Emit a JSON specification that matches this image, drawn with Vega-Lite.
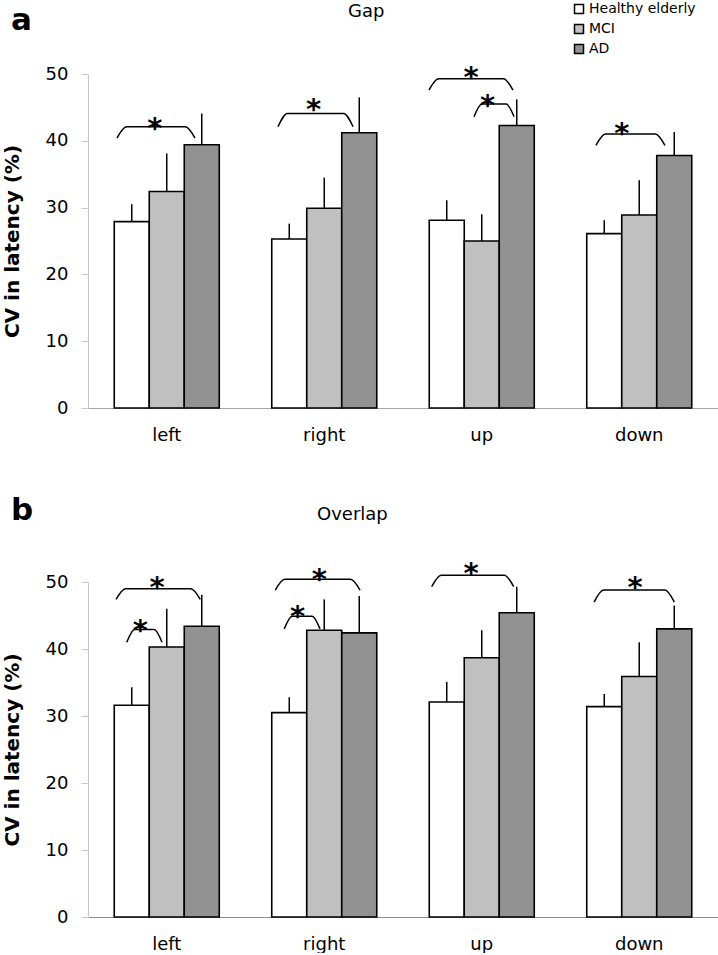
{
  "$schema": "https://vega.github.io/schema/vega-lite/v6.json",
  "padding": {"left": 2, "top": 2, "right": 0, "bottom": 0},
  "bounds": "flush",
  "spacing": 174,
  "config": {
    "font": "DejaVu Sans",
    "view": {"stroke": null},
    "axis": {"labelFont": "DejaVu Sans", "titleFont": "DejaVu Sans", "grid": false}
  },
  "datasets": {
    "bars": [
      {"panel": "Gap", "dir": "left", "group": "Healthy elderly", "mean": 27.9, "upper": 30.5},
      {"panel": "Gap", "dir": "left", "group": "MCI", "mean": 32.4, "upper": 38.1},
      {"panel": "Gap", "dir": "left", "group": "AD", "mean": 39.4, "upper": 44.1},
      {"panel": "Gap", "dir": "right", "group": "Healthy elderly", "mean": 25.3, "upper": 27.6},
      {"panel": "Gap", "dir": "right", "group": "MCI", "mean": 29.9, "upper": 34.5},
      {"panel": "Gap", "dir": "right", "group": "AD", "mean": 41.2, "upper": 46.5},
      {"panel": "Gap", "dir": "up", "group": "Healthy elderly", "mean": 28.1, "upper": 31.1},
      {"panel": "Gap", "dir": "up", "group": "MCI", "mean": 25.0, "upper": 29.0},
      {"panel": "Gap", "dir": "up", "group": "AD", "mean": 42.3, "upper": 46.2},
      {"panel": "Gap", "dir": "down", "group": "Healthy elderly", "mean": 26.1, "upper": 28.1},
      {"panel": "Gap", "dir": "down", "group": "MCI", "mean": 28.9, "upper": 34.1},
      {"panel": "Gap", "dir": "down", "group": "AD", "mean": 37.8, "upper": 41.3},
      {"panel": "Overlap", "dir": "left", "group": "Healthy elderly", "mean": 31.6, "upper": 34.3},
      {"panel": "Overlap", "dir": "left", "group": "MCI", "mean": 40.3, "upper": 46.0},
      {"panel": "Overlap", "dir": "left", "group": "AD", "mean": 43.4, "upper": 48.1},
      {"panel": "Overlap", "dir": "right", "group": "Healthy elderly", "mean": 30.5, "upper": 32.8},
      {"panel": "Overlap", "dir": "right", "group": "MCI", "mean": 42.8, "upper": 47.4},
      {"panel": "Overlap", "dir": "right", "group": "AD", "mean": 42.4, "upper": 47.9},
      {"panel": "Overlap", "dir": "up", "group": "Healthy elderly", "mean": 32.1, "upper": 35.1},
      {"panel": "Overlap", "dir": "up", "group": "MCI", "mean": 38.7, "upper": 42.8},
      {"panel": "Overlap", "dir": "up", "group": "AD", "mean": 45.4, "upper": 49.3},
      {"panel": "Overlap", "dir": "down", "group": "Healthy elderly", "mean": 31.4, "upper": 33.3},
      {"panel": "Overlap", "dir": "down", "group": "MCI", "mean": 35.9, "upper": 41.0},
      {"panel": "Overlap", "dir": "down", "group": "AD", "mean": 43.0, "upper": 46.5}
    ],
    "brackets": [
      {"panel": "Gap", "id": "g1", "ord": 1, "x": 0.184, "y": 40.4},
      {"panel": "Gap", "id": "g1", "ord": 2, "x": 0.244, "y": 42.1},
      {"panel": "Gap", "id": "g1", "ord": 3, "x": 0.619, "y": 42.1},
      {"panel": "Gap", "id": "g1", "ord": 4, "x": 0.679, "y": 40.4},
      {"panel": "Gap", "id": "g2", "ord": 1, "x": 1.206, "y": 42.1},
      {"panel": "Gap", "id": "g2", "ord": 2, "x": 1.266, "y": 44.1},
      {"panel": "Gap", "id": "g2", "ord": 3, "x": 1.623, "y": 44.1},
      {"panel": "Gap", "id": "g2", "ord": 4, "x": 1.683, "y": 42.1},
      {"panel": "Gap", "id": "g3", "ord": 1, "x": 2.165, "y": 47.6},
      {"panel": "Gap", "id": "g3", "ord": 2, "x": 2.225, "y": 49.3},
      {"panel": "Gap", "id": "g3", "ord": 3, "x": 2.638, "y": 49.3},
      {"panel": "Gap", "id": "g3", "ord": 4, "x": 2.698, "y": 47.6},
      {"panel": "Gap", "id": "g4", "ord": 1, "x": 2.451, "y": 43.6},
      {"panel": "Gap", "id": "g4", "ord": 2, "x": 2.501, "y": 45.5},
      {"panel": "Gap", "id": "g4", "ord": 3, "x": 2.655, "y": 45.5},
      {"panel": "Gap", "id": "g4", "ord": 4, "x": 2.705, "y": 43.6},
      {"panel": "Gap", "id": "g5", "ord": 1, "x": 3.225, "y": 39.3},
      {"panel": "Gap", "id": "g5", "ord": 2, "x": 3.285, "y": 41.0},
      {"panel": "Gap", "id": "g5", "ord": 3, "x": 3.603, "y": 41.0},
      {"panel": "Gap", "id": "g5", "ord": 4, "x": 3.663, "y": 39.3},
      {"panel": "Overlap", "id": "o1", "ord": 1, "x": 0.178, "y": 47.4},
      {"panel": "Overlap", "id": "o1", "ord": 2, "x": 0.238, "y": 49.0},
      {"panel": "Overlap", "id": "o1", "ord": 3, "x": 0.653, "y": 49.0},
      {"panel": "Overlap", "id": "o1", "ord": 4, "x": 0.713, "y": 47.4},
      {"panel": "Overlap", "id": "o2", "ord": 1, "x": 0.246, "y": 41.0},
      {"panel": "Overlap", "id": "o2", "ord": 2, "x": 0.296, "y": 42.9},
      {"panel": "Overlap", "id": "o2", "ord": 3, "x": 0.420, "y": 42.9},
      {"panel": "Overlap", "id": "o2", "ord": 4, "x": 0.470, "y": 41.0},
      {"panel": "Overlap", "id": "o3", "ord": 1, "x": 1.189, "y": 48.8},
      {"panel": "Overlap", "id": "o3", "ord": 2, "x": 1.249, "y": 50.4},
      {"panel": "Overlap", "id": "o3", "ord": 3, "x": 1.667, "y": 50.4},
      {"panel": "Overlap", "id": "o3", "ord": 4, "x": 1.727, "y": 48.8},
      {"panel": "Overlap", "id": "o4", "ord": 1, "x": 1.246, "y": 43.0},
      {"panel": "Overlap", "id": "o4", "ord": 2, "x": 1.296, "y": 44.9},
      {"panel": "Overlap", "id": "o4", "ord": 3, "x": 1.423, "y": 44.9},
      {"panel": "Overlap", "id": "o4", "ord": 4, "x": 1.473, "y": 43.0},
      {"panel": "Overlap", "id": "o5", "ord": 1, "x": 2.182, "y": 49.3},
      {"panel": "Overlap", "id": "o5", "ord": 2, "x": 2.242, "y": 51.0},
      {"panel": "Overlap", "id": "o5", "ord": 3, "x": 2.643, "y": 51.0},
      {"panel": "Overlap", "id": "o5", "ord": 4, "x": 2.703, "y": 49.3},
      {"panel": "Overlap", "id": "o6", "ord": 1, "x": 3.213, "y": 47.0},
      {"panel": "Overlap", "id": "o6", "ord": 2, "x": 3.273, "y": 48.8},
      {"panel": "Overlap", "id": "o6", "ord": 3, "x": 3.663, "y": 48.8},
      {"panel": "Overlap", "id": "o6", "ord": 4, "x": 3.723, "y": 47.0}
    ],
    "stars": [
      {"panel": "Gap", "x": 0.425, "y": 42.5, "label": "*"},
      {"panel": "Gap", "x": 1.432, "y": 45.4, "label": "*"},
      {"panel": "Gap", "x": 2.432, "y": 50.2, "label": "*"},
      {"panel": "Gap", "x": 2.537, "y": 45.9, "label": "*"},
      {"panel": "Gap", "x": 3.389, "y": 41.7, "label": "*"},
      {"panel": "Overlap", "x": 0.438, "y": 49.8, "label": "*"},
      {"panel": "Overlap", "x": 0.332, "y": 43.5, "label": "*"},
      {"panel": "Overlap", "x": 1.469, "y": 51.0, "label": "*"},
      {"panel": "Overlap", "x": 1.331, "y": 45.5, "label": "*"},
      {"panel": "Overlap", "x": 2.432, "y": 51.9, "label": "*"},
      {"panel": "Overlap", "x": 3.473, "y": 49.8, "label": "*"}
    ],
    "letters": [
      {"panel": "Gap", "x": -0.489, "y": 56.6, "label": "a"},
      {"panel": "Overlap", "x": -0.489, "y": 59.2, "label": "b"}
    ],
    "titles": [
      {"panel": "Gap", "x": 1.651, "y": 58.5, "label": "Gap"},
      {"panel": "Overlap", "x": 1.454, "y": 59.2, "label": "Overlap"}
    ]
  },
  "resolve": {"scale": {"fill": "independent"}, "legend": {"fill": "independent"}},
  "vconcat": [
    {
      "width": 630,
      "height": 334,
      "resolve": {"scale": {"x": "independent"}},
      "layer": [
        {
          "data": {"name": "bars"},
          "transform": [{"filter": "datum.panel === 'Gap'"}],
          "layer": [
            {
              "mark": {"type": "bar", "stroke": "black", "strokeWidth": 1.6},
              "encoding": {
                "x": {"field": "dir", "type": "nominal", "sort": ["left", "right", "up", "down"],
                  "scale": {"paddingInner": 0.3333, "paddingOuter": 0.1667},
                  "axis": {"title": null, "labelAngle": 0, "labelFontSize": 18, "labelColor": "black", "ticks": false, "tickSize": 0, "labelPadding": 18, "domainColor": "#a6a6a6", "domainWidth": 1}},
                "xOffset": {"field": "group", "type": "nominal", "sort": ["Healthy elderly", "MCI", "AD"], "scale": {"paddingInner": 0, "paddingOuter": 0}},
                "y": {"field": "mean", "type": "quantitative", "scale": {"domain": [0, 50], "nice": false},
                  "axis": {"title": "CV in latency (%)", "titleFontSize": 20, "titleFontWeight": "bold", "titleColor": "black", "titlePadding": 23, "values": [0, 10, 20, 30, 40, 50], "labelFontSize": 18, "labelColor": "black", "labelPadding": 13, "tickSize": 7, "tickColor": "#c8c8c8", "domainColor": "#c8c8c8"}},
                "fill": {"field": "group", "type": "nominal",
                  "scale": {"domain": ["Healthy elderly", "MCI", "AD"], "range": ["#ffffff", "#c0c0c0", "#929292"]},
                  "legend": {"orient": "none", "legendX": 484, "legendY": -72, "title": null, "symbolType": "square", "symbolSize": 81, "symbolStrokeColor": "black", "symbolStrokeWidth": 1.5, "symbolOpacity": 1, "labelFontSize": 14, "labelColor": "black", "labelFont": "DejaVu Sans", "rowPadding": 4, "labelOffset": 3, "padding": 0}}
              }
            },
            {
              "mark": {"type": "rule", "stroke": "black", "strokeWidth": 1.5},
              "encoding": {
                "x": {"field": "dir", "type": "nominal", "sort": ["left", "right", "up", "down"]},
                "xOffset": {"field": "group", "type": "nominal", "sort": ["Healthy elderly", "MCI", "AD"]},
                "y": {"field": "mean", "type": "quantitative", "scale": {"domain": [0, 50], "nice": false}},
                "y2": {"field": "upper"}
              }
            }
          ]
        },
        {
          "layer": [
            {
              "data": {"name": "brackets"},
              "transform": [{"filter": "datum.panel === 'Gap'"}],
              "mark": {"type": "line", "stroke": "black", "strokeWidth": 1.5, "interpolate": "monotone"},
              "encoding": {
                "x": {"field": "x", "type": "quantitative", "scale": {"domain": [0, 4], "nice": false, "zero": false}, "axis": null},
                "y": {"field": "y", "type": "quantitative", "scale": {"domain": [0, 50], "nice": false}},
                "detail": {"field": "id"},
                "order": {"field": "ord", "type": "quantitative"}
              }
            },
            {
              "data": {"name": "stars"},
              "transform": [{"filter": "datum.panel === 'Gap'"}],
              "mark": {"type": "text", "fontSize": 29, "fontWeight": "bold", "baseline": "middle", "align": "center", "dy": 5, "color": "black"},
              "encoding": {
                "x": {"field": "x", "type": "quantitative", "scale": {"domain": [0, 4], "nice": false, "zero": false}, "axis": null},
                "y": {"field": "y", "type": "quantitative", "scale": {"domain": [0, 50], "nice": false}},
                "text": {"field": "label"}
              }
            },
            {
              "data": {"name": "letters"},
              "transform": [{"filter": "datum.panel === 'Gap'"}],
              "mark": {"type": "text", "fontSize": 31, "fontWeight": "bold", "baseline": "alphabetic", "align": "left", "color": "black"},
              "encoding": {
                "x": {"field": "x", "type": "quantitative", "scale": {"domain": [0, 4], "nice": false, "zero": false}, "axis": null},
                "y": {"field": "y", "type": "quantitative", "scale": {"domain": [0, 50], "nice": false}},
                "text": {"field": "label"}
              }
            },
            {
              "data": {"name": "titles"},
              "transform": [{"filter": "datum.panel === 'Gap'"}],
              "mark": {"type": "text", "fontSize": 18, "baseline": "alphabetic", "align": "left", "color": "black"},
              "encoding": {
                "x": {"field": "x", "type": "quantitative", "scale": {"domain": [0, 4], "nice": false, "zero": false}, "axis": null},
                "y": {"field": "y", "type": "quantitative", "scale": {"domain": [0, 50], "nice": false}},
                "text": {"field": "label"}
              }
            }
          ]
        }
      ]
    },
    {
      "width": 630,
      "height": 335,
      "resolve": {"scale": {"x": "independent"}},
      "layer": [
        {
          "data": {"name": "bars"},
          "transform": [{"filter": "datum.panel === 'Overlap'"}],
          "layer": [
            {
              "mark": {"type": "bar", "stroke": "black", "strokeWidth": 1.6},
              "encoding": {
                "x": {"field": "dir", "type": "nominal", "sort": ["left", "right", "up", "down"],
                  "scale": {"paddingInner": 0.3333, "paddingOuter": 0.1667},
                  "axis": {"title": null, "labelAngle": 0, "labelFontSize": 18, "labelColor": "black", "ticks": false, "tickSize": 0, "labelPadding": 18, "domainColor": "#8c8c8c", "domainWidth": 1}},
                "xOffset": {"field": "group", "type": "nominal", "sort": ["Healthy elderly", "MCI", "AD"], "scale": {"paddingInner": 0, "paddingOuter": 0}},
                "y": {"field": "mean", "type": "quantitative", "scale": {"domain": [0, 50], "nice": false},
                  "axis": {"title": "CV in latency (%)", "titleFontSize": 20, "titleFontWeight": "bold", "titleColor": "black", "titlePadding": 23, "values": [0, 10, 20, 30, 40, 50], "labelFontSize": 18, "labelColor": "black", "labelPadding": 13, "tickSize": 7, "tickColor": "#c8c8c8", "domainColor": "#c8c8c8"}},
                "fill": {"field": "group", "type": "nominal",
                  "scale": {"domain": ["Healthy elderly", "MCI", "AD"], "range": ["#ffffff", "#c0c0c0", "#929292"]},
                  "legend": null}
              }
            },
            {
              "mark": {"type": "rule", "stroke": "black", "strokeWidth": 1.5},
              "encoding": {
                "x": {"field": "dir", "type": "nominal", "sort": ["left", "right", "up", "down"]},
                "xOffset": {"field": "group", "type": "nominal", "sort": ["Healthy elderly", "MCI", "AD"]},
                "y": {"field": "mean", "type": "quantitative", "scale": {"domain": [0, 50], "nice": false}},
                "y2": {"field": "upper"}
              }
            }
          ]
        },
        {
          "layer": [
            {
              "data": {"name": "brackets"},
              "transform": [{"filter": "datum.panel === 'Overlap'"}],
              "mark": {"type": "line", "stroke": "black", "strokeWidth": 1.5, "interpolate": "monotone"},
              "encoding": {
                "x": {"field": "x", "type": "quantitative", "scale": {"domain": [0, 4], "nice": false, "zero": false}, "axis": null},
                "y": {"field": "y", "type": "quantitative", "scale": {"domain": [0, 50], "nice": false}},
                "detail": {"field": "id"},
                "order": {"field": "ord", "type": "quantitative"}
              }
            },
            {
              "data": {"name": "stars"},
              "transform": [{"filter": "datum.panel === 'Overlap'"}],
              "mark": {"type": "text", "fontSize": 29, "fontWeight": "bold", "baseline": "middle", "align": "center", "dy": 5, "color": "black"},
              "encoding": {
                "x": {"field": "x", "type": "quantitative", "scale": {"domain": [0, 4], "nice": false, "zero": false}, "axis": null},
                "y": {"field": "y", "type": "quantitative", "scale": {"domain": [0, 50], "nice": false}},
                "text": {"field": "label"}
              }
            },
            {
              "data": {"name": "letters"},
              "transform": [{"filter": "datum.panel === 'Overlap'"}],
              "mark": {"type": "text", "fontSize": 31, "fontWeight": "bold", "baseline": "alphabetic", "align": "left", "color": "black"},
              "encoding": {
                "x": {"field": "x", "type": "quantitative", "scale": {"domain": [0, 4], "nice": false, "zero": false}, "axis": null},
                "y": {"field": "y", "type": "quantitative", "scale": {"domain": [0, 50], "nice": false}},
                "text": {"field": "label"}
              }
            },
            {
              "data": {"name": "titles"},
              "transform": [{"filter": "datum.panel === 'Overlap'"}],
              "mark": {"type": "text", "fontSize": 18, "baseline": "alphabetic", "align": "left", "color": "black"},
              "encoding": {
                "x": {"field": "x", "type": "quantitative", "scale": {"domain": [0, 4], "nice": false, "zero": false}, "axis": null},
                "y": {"field": "y", "type": "quantitative", "scale": {"domain": [0, 50], "nice": false}},
                "text": {"field": "label"}
              }
            }
          ]
        }
      ]
    }
  ]
}
